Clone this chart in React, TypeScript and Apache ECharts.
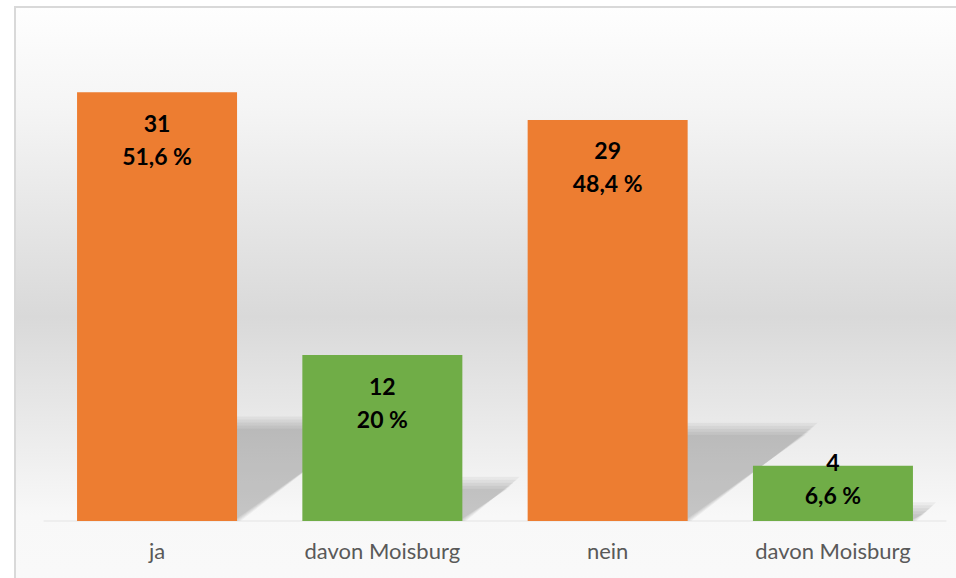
import React, { useEffect, useRef } from "react";
import * as echarts from "echarts";

const categories = ["ja", "davon Moisburg", "nein", "davon Moisburg"];
const counts = [31, 12, 29, 4];
const percents = ["51,6", "20", "48,4", "6,6"];
const barColors = ["#ED7D31", "#70AD47", "#ED7D31", "#70AD47"];

export default function App() {
  const ref = useRef<HTMLDivElement>(null);
  useEffect(() => {
    if (!ref.current) return;
    const chart = echarts.init(ref.current, null, { renderer: "svg" });
    const barW = 160;
    const option: any = {
      animation: false,
      graphic: [
        {
          type: "rect",
          z: -100,
          silent: true,
          shape: { x: 15, y: 7, width: 980, height: 620 },
          style: {
            stroke: "#d9d9d9",
            lineWidth: 2,
            fill: new echarts.graphic.LinearGradient(0, 0, 0, 1, [
              { offset: 0, color: "#fefefe" },
              { offset: 0.16, color: "#f5f5f5" },
              { offset: 0.5, color: "#d9d9d9" },
              { offset: 0.82, color: "#f8f8f8" },
              { offset: 1, color: "#fafafa" },
            ]),
          },
        },
      ],
      grid: { left: 44.4, right: 10.4, top: 37, bottom: 57 },
      xAxis: {
        type: "category",
        data: categories,
        axisTick: { show: false },
        axisLine: { show: true, lineStyle: { color: "#eeeeee", width: 2 } },
        axisLabel: {
          color: "#595959",
          fontFamily: "Lato",
          fontSize: 22,
          margin: 18,
        },
      },
      yAxis: {
        type: "value",
        min: 0,
        max: 35,
        show: false,
        splitLine: { show: false },
      },
      series: [
        {
          type: "custom",
          z: 1,
          silent: true,
          data: counts.map((v, i) => [i, v]),
          renderItem: (params: any, api: any) => {
            const x = api.value(0);
            const v = api.value(1);
            const base = api.coord([x, 0]);
            const top = api.coord([x, v]);
            const h = base[1] - top[1];
            const l = base[0] - barW / 2;
            const r = base[0] + barW / 2;
            const yb = base[1];
            const dx = 0.31 * h;
            const dy = 0.23 * h;
            const steps = [-6, -3, 0, 3, 6];
            return {
              type: "group",
              children: steps.map((s) => ({
                type: "polygon",
                shape: {
                  points: [
                    [l, yb],
                    [r - s * 0.6, yb],
                    [r + dx - s, yb - dy + s],
                    [l + dx - s, yb - dy + s],
                  ],
                },
                style: { fill: "rgba(0,0,0,0.042)" },
              })),
            };
          },
        },
        {
          type: "bar",
          z: 3,
          barWidth: barW,
          data: counts.map((v, i) => ({
            value: v,
            itemStyle: { color: barColors[i] },
            label: i === 3 ? { offset: [0, -34] } : undefined,
          })),
          label: {
            show: true,
            position: "insideTop",
            distance: 14,
            color: "#000",
            fontFamily: "Lato",
            fontWeight: "bold",
            fontSize: 23,
            lineHeight: 33,
            formatter: (p: any) => `${p.value}\n${percents[p.dataIndex]} %`,
          },
        },
      ],
    };
    chart.setOption(option);
    return () => chart.dispose();
  }, []);
  return (
    <div
      ref={ref}
      style={{ position: "absolute", left: 0, top: 0, width: 956, height: 578, background: "#ffffff" }}
    />
  );
}
